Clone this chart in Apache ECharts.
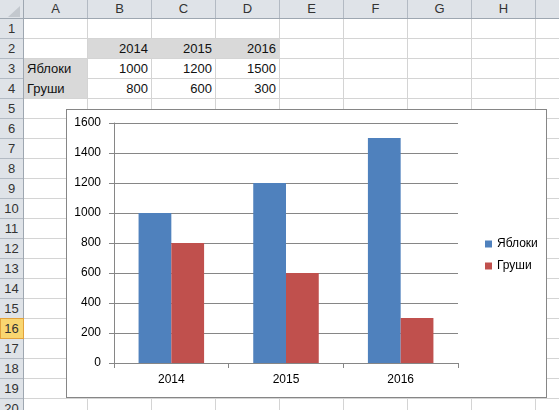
<!DOCTYPE html>
<html><head><meta charset="utf-8">
<script src="https://cdn.jsdelivr.net/npm/echarts@6/dist/echarts.min.js"></script>
<style>
body{margin:0;width:559px;height:410px;overflow:hidden;background:#fff;position:relative;font-family:"Liberation Sans",Arial,sans-serif}
.a{position:absolute;box-sizing:border-box}
.t{position:absolute;font-size:13px;line-height:19px;color:#111;white-space:nowrap}
</style></head><body>
<div id="sheet"></div>
<div id="chart" style="position:absolute;left:66px;top:109px;width:479px;height:287px;border:1px solid #868686;background:#fff"></div>
<script>
const categories = ['2014', '2015', '2016'];
const seriesNames = ['Яблоки', 'Груши'];
const apples = [1000, 1200, 1500];
const pears = [800, 600, 300];
const yTicks = [0, 200, 400, 600, 800, 1000, 1200, 1400, 1600];
const colLetters = ['A', 'B', 'C', 'D', 'E', 'F', 'G', 'H', 'I'];
const rowCount = 20;

// ---- spreadsheet background ----
const sheet = document.getElementById('sheet');
const RH = 23, CW = 64, HH = 18, ROW = 20;
function box(x, y, w, h, css) {
  const d = document.createElement('div');
  d.className = 'a';
  d.style.cssText += `left:${x}px;top:${y}px;width:${w}px;height:${h}px;` + css;
  sheet.appendChild(d); return d;
}
function text(x, y, w, s, align, css) {
  const d = document.createElement('div');
  d.className = 't';
  d.style.cssText += `left:${x}px;top:${y}px;width:${w}px;text-align:${align};` + (css || '');
  d.textContent = s;
  sheet.appendChild(d); return d;
}
// header backgrounds
box(0, 0, 559, HH, 'background:#dfe3e8');
box(0, 0, RH, 410, 'background:#dfe3e8');
// corner triangle
box(8, 6, 0, 0, 'border-style:solid;border-width:0 0 11px 12px;border-color:transparent transparent #c3c8ce transparent;width:0;height:0');
// grid lines
for (let k = 1; k <= 8; k++) {
  const x = RH + CW * k;
  box(x, HH, 1, 410 - HH, 'background:#d4d4d4');
  box(x, 0, 1, HH, 'background:#b3bac3');
}
for (let n = 1; n <= rowCount; n++) {
  const y = HH + ROW * n;
  box(RH, y, 559 - RH, 1, 'background:#d4d4d4');
  box(0, y, RH, 1, 'background:#b3bac3');
}
box(0, HH, 559, 1, 'background:#9ea7b1');
box(RH, 0, 1, 410, 'background:#9ea7b1');
// selected row header (16)
box(0, HH + ROW * 15, RH + 1, ROW + 1, 'background:#f9d670;border:1px solid #e2a23c');
// column letters
colLetters.forEach((c, i) => text(RH + CW * i + 1, 0, CW - 1, c, 'center', 'color:#333;line-height:18px'));
for (let n = 1; n <= rowCount; n++) text(0, HH + ROW * (n - 1) + 1, RH, String(n), 'center', 'color:#333');
// filled cells
box(RH + CW + 1, HH + ROW + 1, CW * 3, ROW - 1, 'background:#d9d9d9');
box(RH + 1, HH + ROW * 2 + 1, CW - 1, ROW * 2 - 1, 'background:#d9d9d9');
// cell texts
categories.forEach((c, i) => text(RH + CW * (i + 1) + 1, HH + ROW + 1, CW - 4, c, 'right'));
seriesNames.forEach((s, r) => text(RH + 4, HH + ROW * (2 + r) + 1, CW - 4, s, 'left'));
[apples, pears].forEach((arr, r) => arr.forEach((v, i) =>
  text(RH + CW * (i + 1) + 1, HH + ROW * (2 + r) + 1, CW - 4, String(v), 'right')));

// ---- chart ----
const chart = echarts.init(document.getElementById('chart'), null, { renderer: 'canvas' });
const axisGray = '#868686';
chart.setOption({
  animation: false,
  backgroundColor: '#fff',
  textStyle: { fontFamily: '"Liberation Sans", Arial, sans-serif' },
  grid: { left: 47, top: 13, width: 344, height: 240, containLabel: false },
  legend: {
    orient: 'vertical', left: 413, top: 123, itemWidth: 7, itemHeight: 7, itemGap: 10,
    icon: 'rect', data: seriesNames,
    textStyle: { fontSize: 12, color: '#000' }
  },
  xAxis: {
    type: 'category', data: categories, boundaryGap: true,
    axisLine: { show: true, lineStyle: { color: axisGray, width: 1 } },
    axisTick: { show: true, length: 5, lineStyle: { color: axisGray } },
    axisLabel: { fontSize: 12, color: '#000', margin: 11 },
    splitLine: { show: false }
  },
  yAxis: {
    type: 'value', min: yTicks[0], max: yTicks[yTicks.length - 1], interval: yTicks[1] - yTicks[0],
    axisLine: { show: true, lineStyle: { color: axisGray, width: 1 } },
    axisTick: { show: true, length: 5, lineStyle: { color: axisGray } },
    axisLabel: { fontSize: 12, color: '#000', margin: 13, formatter: v => String(v) },
    splitLine: { show: true, lineStyle: { color: axisGray, width: 1 } }
  },
  series: [
    { name: seriesNames[0], type: 'bar', data: apples, barGap: '0%', barCategoryGap: '42.86%', itemStyle: { color: '#4F81BD' } },
    { name: seriesNames[1], type: 'bar', data: pears, barGap: '0%', barCategoryGap: '42.86%', itemStyle: { color: '#C0504D' } }
  ]
});
</script>
</body></html>
